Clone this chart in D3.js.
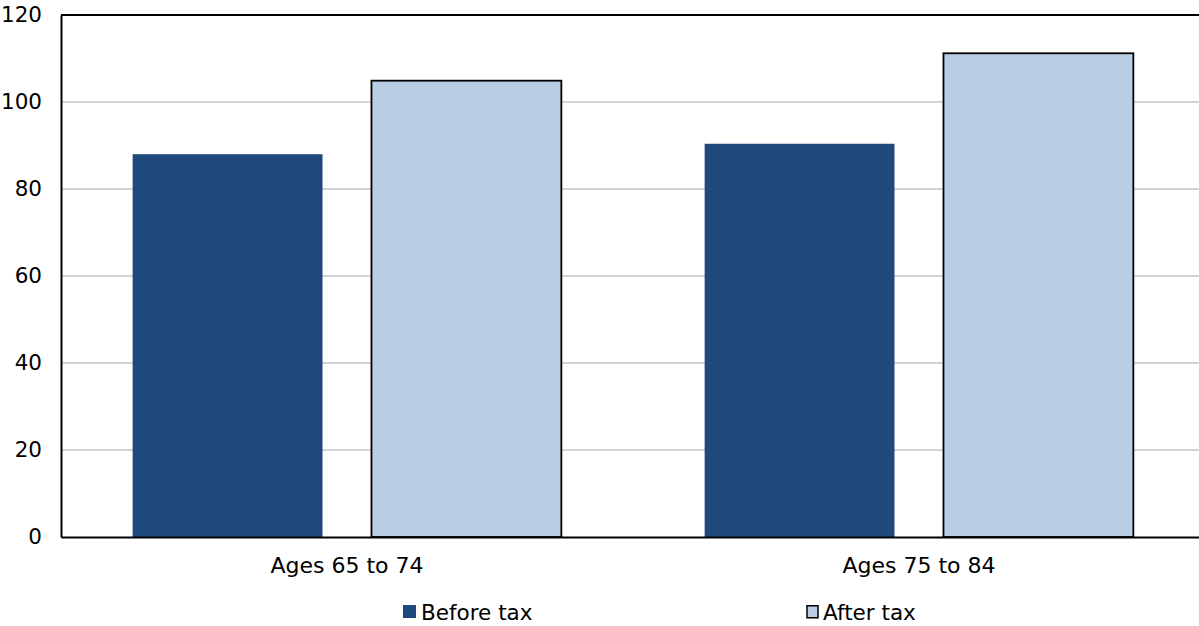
<!DOCTYPE html>
<html>
<head>
<meta charset="utf-8">
<script src="https://cdn.jsdelivr.net/npm/d3@7"></script>
<style>
  body { margin: 0; background: #fff; }
  svg { display: block; font-family: "DejaVu Sans", Verdana, sans-serif; }
</style>
</head>
<body>
<div id="chart"></div>
<script>
// data
const categories = ["Ages 65 to 74", "Ages 75 to 84"];
const seriesNames = ["Before tax", "After tax"];
const beforeTax = [88.0, 90.4];
const afterTax = [104.9, 111.2];
const yTicks = [0, 20, 40, 60, 80, 100, 120];

const seriesColors = ["#1f497d", "#b9cde4"];
const seriesStroke = ["none", "#000"];

const width = 1199, height = 626;
const margin = { top: 15, left: 61, bottom: 537, right: 1205 };

const svg = d3.select("#chart").append("svg")
    .attr("width", width).attr("height", height);

const x = d3.scaleBand().domain(categories)
    .range([margin.left, margin.right]);
const xInner = d3.scaleBand().domain(seriesNames)
    .range([0, x.bandwidth()])
    .paddingInner(0.205)
    .paddingOuter(0.3);
const y = d3.scaleLinear().domain([0, 120]).range([margin.bottom, margin.top]);

// gridlines
svg.append("g")
  .selectAll("line")
  .data(yTicks.filter(d => d > 0 && d < 120))
  .join("line")
    .attr("x1", margin.left).attr("x2", width)
    .attr("y1", d => y(d)).attr("y2", d => y(d))
    .attr("stroke", "#c4c4c4")
    .attr("stroke-width", 1.5);

// top border
svg.append("line")
    .attr("x1", margin.left).attr("x2", width)
    .attr("y1", y(120)).attr("y2", y(120))
    .attr("stroke", "#000").attr("stroke-width", 2);

// bars
const rows = categories.map((c, i) => ({ cat: c, vals: [beforeTax[i], afterTax[i]] }));
const groups = svg.append("g").selectAll("g")
  .data(rows)
  .join("g")
    .attr("transform", d => `translate(${x(d.cat)},0)`);

groups.selectAll("rect")
  .data(d => d.vals.map((v, j) => ({ key: seriesNames[j], v, j })))
  .join("rect")
    .attr("x", d => xInner(d.key))
    .attr("width", xInner.bandwidth())
    .attr("y", d => y(d.v))
    .attr("height", d => y(0) - y(d.v))
    .attr("fill", d => seriesColors[d.j])
    .attr("stroke", d => seriesStroke[d.j])
    .attr("stroke-width", 1.8);

// y axis
const yAxis = svg.append("g")
    .attr("transform", `translate(${margin.left},0)`)
    .call(d3.axisLeft(y).tickValues(yTicks).tickSize(0).tickPadding(19));
yAxis.select(".domain").attr("stroke", "#000").attr("stroke-width", 2);
yAxis.selectAll("text").attr("font-size", 21.5).attr("fill", "#000")
    .attr("font-family", "DejaVu Sans, Verdana, sans-serif");

// x axis
const xAxis = svg.append("g")
    .attr("transform", `translate(0,${y(0)})`)
    .call(d3.axisBottom(x).tickSize(0).tickPadding(20));
xAxis.select(".domain").attr("stroke", "#000").attr("stroke-width", 2);
xAxis.selectAll("text").attr("font-size", 22).attr("fill", "#000")
    .attr("font-family", "DejaVu Sans, Verdana, sans-serif");

// legend
const legendX = [403, 806];
const legend = svg.append("g").selectAll("g")
  .data(seriesNames)
  .join("g")
    .attr("transform", (d, i) => `translate(${legendX[i]},605)`);
legend.append("rect")
    .attr("x", (d, i) => i ? 1 : 0)
    .attr("y", (d, i) => i ? 0.75 : 0)
    .attr("width", (d, i) => i ? 11 : 13)
    .attr("height", (d, i) => i ? 12 : 13)
    .attr("fill", (d, i) => seriesColors[i])
    .attr("stroke", (d, i) => seriesStroke[i])
    .attr("stroke-width", 1.5);
legend.append("text")
    .attr("x", (d, i) => i ? 17 : 18)
    .attr("y", 15)
    .attr("font-size", 21.5)
    .attr("fill", "#000")
    .text(d => d);
</script>
</body>
</html>
